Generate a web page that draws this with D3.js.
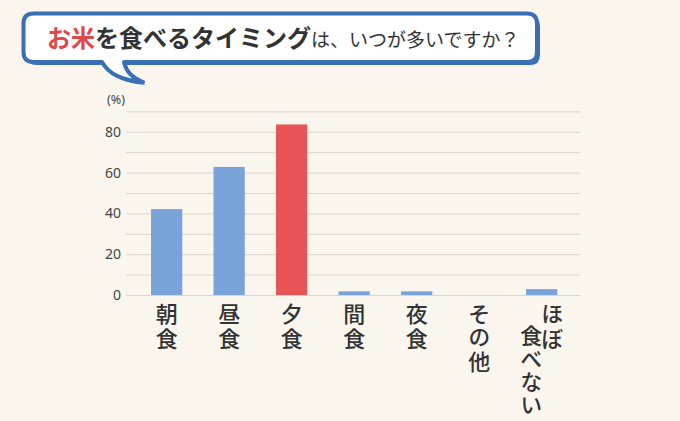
<!DOCTYPE html>
<html>
<head>
<meta charset="utf-8">
<script src="https://cdn.jsdelivr.net/npm/d3@7"></script>
<style>
  html, body { margin: 0; padding: 0; background: #faf6ee; }
  svg { display: block; font-family: "Noto Sans CJK JP", "Noto Sans", sans-serif; }
</style>
</head>
<body>
<div id="chart"></div>
<script>
// data
const categories = ["朝食", "昼食", "夕食", "間食", "夜食", "その他", "ほぼ\n食べない"];
const values = [42.1, 62.8, 83.6, 1.8, 1.8, 0, 2.9];
const highlight = "夕食";
const yTickLabels = [0, 20, 40, 60, 80];
const titleParts = [
  { text: "お米", kind: "accent" },
  { text: "を食べるタイミング", kind: "bold" },
  { text: "は、いつが多いですか？", kind: "plain" }
];

const W = 680, H = 421;
const blue = "#78a4da", red = "#e85456", frame = "#3b6fb5", ink = "#333";

const svg = d3.select("#chart").append("svg")
    .attr("width", W)
    .attr("height", H)
    .style("background", "#faf6ee");

// speech bubble
const x0 = 23.5, y0 = 13.5, x1 = 537, y1 = 62, r = 10;
const bubble = `M${x0 + r},${y0} H${x1 - r} Q${x1},${y0} ${x1},${y0 + r} V${y1 - r} Q${x1},${y1} ${x1 - r},${y1}
  H124 Q127,76 143,82 Q112,80 102,${y1} H${x0 + r} Q${x0},${y1} ${x0},${y1 - r} V${y0 + r} Q${x0},${y0} ${x0 + r},${y0} Z`;

svg.append("path")
    .attr("d", bubble)
    .attr("transform", "translate(3,3)")
    .attr("fill", frame);

svg.append("path")
    .attr("d", bubble)
    .attr("fill", "#fff")
    .attr("stroke", frame)
    .attr("stroke-width", 4)
    .attr("stroke-linejoin", "round");

const title = svg.append("text")
    .attr("x", 47)
    .attr("y", 47);

title.selectAll("tspan")
    .data(titleParts)
    .enter()
    .append("tspan")
    .style("font-size", d => d.kind === "plain" ? "19px" : "24px")
    .style("font-weight", d => d.kind === "plain" ? "normal" : "bold")
    .style("fill", d => d.kind === "accent" ? "#e0474b" : ink)
    .text(d => d.text);

// chart area
const gridX0 = 126, gridX1 = 580;

const x = d3.scaleBand()
    .domain(categories)
    .range([135.4, 572.9])
    .paddingInner(0.5)
    .paddingOuter(0.25);

const y = d3.scaleLinear()
    .domain([0, 90])
    .range([295, 111.4]);

svg.append("g")
    .attr("transform", `translate(${gridX0},0)`)
    .call(d3.axisLeft(y).ticks(9).tickSize(-(gridX1 - gridX0)).tickFormat(""))
    .call(g => g.select(".domain").remove())
    .selectAll(".tick line")
    .attr("stroke", "#d9d5cc")
    .attr("stroke-width", 1);

svg.append("g")
    .attr("transform", `translate(${gridX0},0)`)
    .call(d3.axisLeft(y).tickValues(yTickLabels).tickSize(0).tickPadding(5))
    .call(g => g.select(".domain").remove())
    .selectAll("text")
    .style("font-family", "'Noto Sans', sans-serif")
    .style("font-size", "14px")
    .style("fill", "#444");

svg.append("text")
    .attr("x", 116)
    .attr("y", 104)
    .attr("text-anchor", "middle")
    .style("font-family", "'Noto Sans', sans-serif")
    .style("font-size", "12.5px")
    .style("fill", "#444")
    .text("(%)");

svg.selectAll(".bar")
    .data(categories)
    .enter()
    .append("rect")
    .attr("class", "bar")
    .attr("x", d => x(d))
    .attr("y", (d, i) => y(values[i]))
    .attr("width", x.bandwidth())
    .attr("height", (d, i) => y(0) - y(values[i]))
    .attr("fill", d => d === highlight ? red : blue);

// vertical category labels: real vertical writing, columns read right to left
const labelTop = 303, colPitch = 21, colDrop = 22;

categories.forEach(cat => {
  const cols = cat.split("\n");
  const cx = x(cat) + x.bandwidth() / 2;
  cols.forEach((col, k) => {
    svg.append("text")
        .attr("x", cx + ((cols.length - 1) / 2 - k) * colPitch)
        .attr("y", labelTop + k * colDrop)
        .style("writing-mode", "vertical-rl")
        .style("font-feature-settings", "'vpal' 1")
        .style("letter-spacing", "3px")
        .style("font-size", "22px")
        .style("font-weight", 500)
        .style("fill", ink)
        .text(col);
  });
});
</script>
</body>
</html>
